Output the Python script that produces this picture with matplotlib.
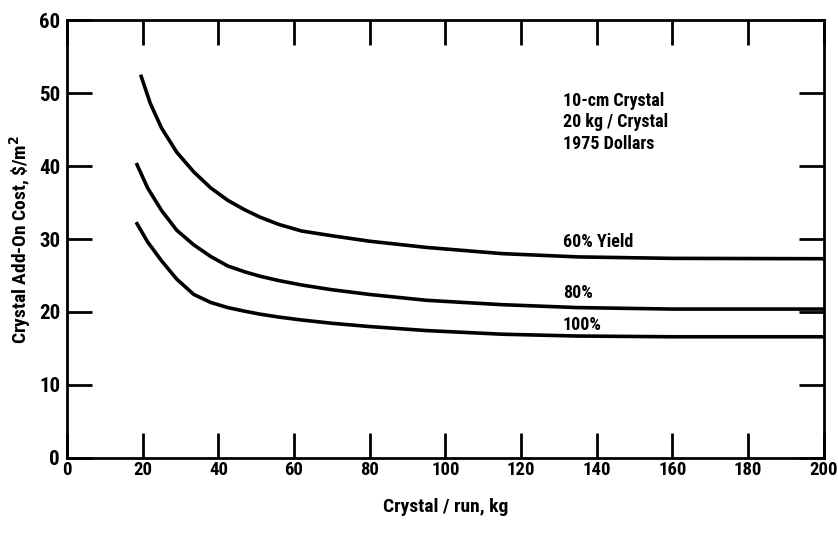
import matplotlib.pyplot as plt
from matplotlib import font_manager

# values (kg per run vs add-on cost)
run_kg = [19.6, 22, 25, 29, 33.5, 38, 42.5, 47, 51, 56, 62, 70, 80, 95, 115, 135, 160, 200]
run_kg_low = [18.5, 21.3, 25, 29, 33.5, 38, 42.5, 47, 51, 56, 62, 70, 80, 95, 115, 135, 160, 200]
yield_60 = [52.3, 48.6, 45.2, 41.9, 39.2, 37.0, 35.3, 34.0, 33.0, 32.0, 31.1, 30.45,
            29.7, 28.85, 28.0, 27.55, 27.35, 27.3]
yield_80 = [40.2, 37.0, 33.9, 31.2, 29.2, 27.6, 26.3, 25.5, 24.9, 24.3, 23.7, 23.05,
            22.4, 21.6, 21.0, 20.6, 20.4, 20.4]
yield_100 = [32.1, 29.6, 27.0, 24.5, 22.4, 21.3, 20.6, 20.1, 19.7, 19.3, 18.9, 18.45,
             18.0, 17.45, 16.95, 16.7, 16.6, 16.6]
curve_labels = ['60% Yield', '80%', '100%']
label_y = [28.3, 21.4, 17.0]
note = '10-cm Crystal\n20 kg / Crystal\n1975 Dollars'

# pick a narrow font if one is there
names = {f.name for f in font_manager.fontManager.ttflist}
fam = 'DejaVu Sans'
for cand in ['Roboto Condensed', 'Liberation Sans Narrow', 'Open Sans Condensed']:
    if cand in names:
        fam = cand
        break
plt.rcParams['font.family'] = [fam, 'DejaVu Sans']
plt.rcParams['font.weight'] = 'bold'
plt.rcParams['font.stretch'] = 'condensed'

fig = plt.figure(figsize=(8.38, 5.47), dpi=100)
ax = fig.add_axes([0.080, 0.163, 0.903, 0.800])

ax.plot(run_kg, yield_60, color='black', lw=2.6)
ax.plot(run_kg_low, yield_80, color='black', lw=2.6)
ax.plot(run_kg_low, yield_100, color='black', lw=2.6)

for txt, yy in zip(curve_labels, label_y):
    ax.text(131, yy, txt, fontsize=13, fontweight='bold', ha='left', va='bottom')
ax.text(131, 50.2, note, fontsize=13, fontweight='bold', ha='left', va='top',
        linespacing=1.25)

ax.set_xlim(0, 200)
ax.set_ylim(0, 60)
ax.set_xticks(range(0, 201, 20))
ax.set_yticks(range(0, 61, 10))
ax.tick_params(direction='in', length=18, width=2, top=True, right=True,
               labelsize=15)
ax.tick_params(axis='x', pad=2, labelsize=13.5)
ax.tick_params(axis='y', pad=5)
for lab in ax.get_xticklabels() + ax.get_yticklabels():
    lab.set_fontweight('bold')
for s in ax.spines.values():
    s.set_linewidth(2)

ax.set_xlabel('Crystal / run, kg', fontsize=14, fontweight='bold', labelpad=14)
ax.set_ylabel('Crystal Add-On Cost, \\$/m$^\\mathbf{2}$', fontsize=14,
              fontweight='bold', labelpad=4)

fig.savefig('out.png', dpi=100)
